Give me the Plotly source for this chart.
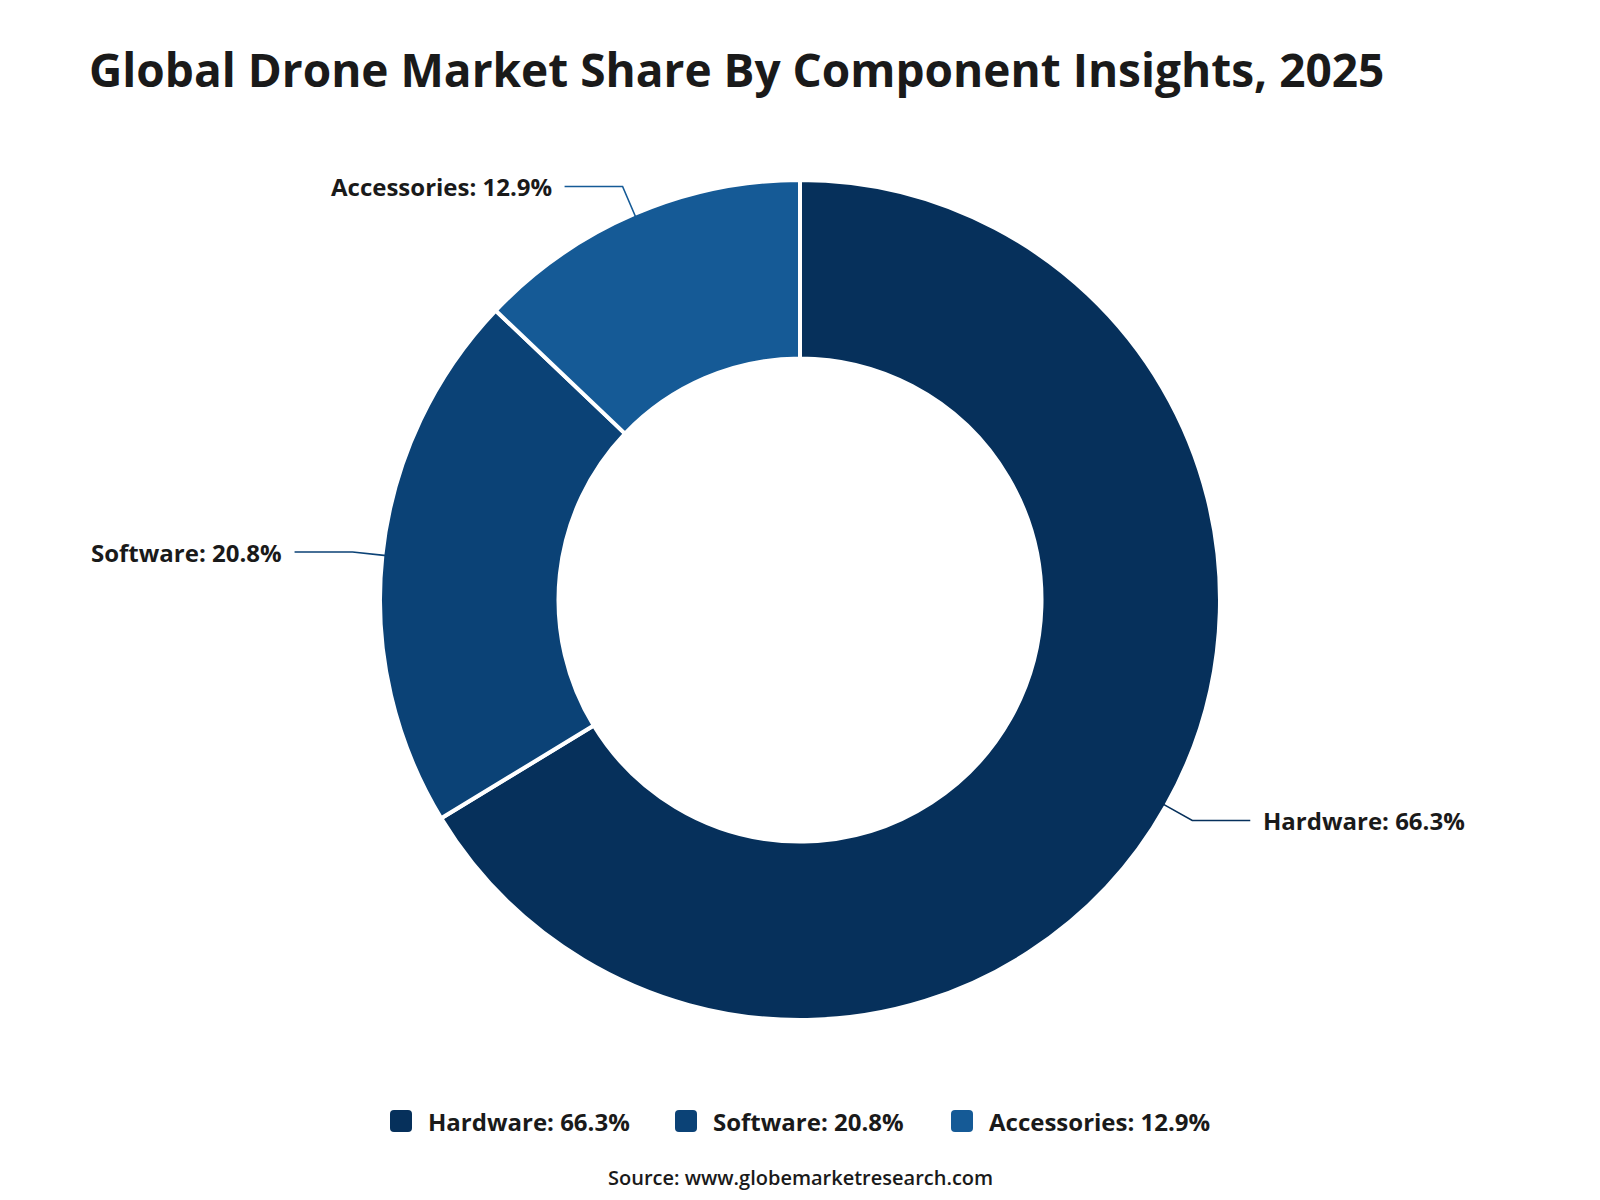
import math
import plotly.graph_objects as go

categories = ["Hardware", "Software", "Accessories"]
shares = [66.3, 20.8, 12.9]
colors = ["#06305B", "#0B4276", "#155A96"]

W, H = 1600, 1200
CX, CY, R = 800, 600, 420
HOLE = 0.575
FONT = "Open Sans"
TXT = "#1a1a1a"

labels = [f"{c}: {v}%" for c, v in zip(categories, shares)]

fig = go.Figure()
fig.add_trace(go.Pie(
    labels=labels, values=shares, sort=False, direction="clockwise", rotation=0,
    hole=HOLE, textinfo="none",
    marker=dict(colors=colors, line=dict(color="white", width=4)),
    domain=dict(x=[0, 1], y=[(H - CY - R) / H, (H - CY + R) / H]),
    hovertemplate="%{label}<extra></extra>", showlegend=False,
))

# leader lines + labels computed from slice mid-angles
total = sum(shares)
cum = 0.0
shapes, annotations = [], []
for lab, v, col in zip(labels, shares, colors):
    mid = (cum + v / 2) / total * 2 * math.pi  # clockwise from 12 o'clock
    cum += v
    dx, dy = math.sin(mid), -math.cos(mid)
    x0, y0 = CX + (R - 4) * dx, CY + (R - 4) * dy
    x1, y1 = CX + (R + 30) * dx, CY + (R + 30) * dy
    side = 1 if dx >= 0 else -1
    x2 = x1 + side * 58
    path = f"M {x0/W},{1-y0/H} L {x1/W},{1-y1/H} L {x2/W},{1-y1/H}"
    shapes.append(dict(type="path", xref="paper", yref="paper", path=path,
                       line=dict(color=col, width=1.6)))
    annotations.append(dict(
        x=(x2 + side * 11) / W, y=1 - y1 / H, xref="paper", yref="paper",
        text=f"<b>{lab}</b>", showarrow=False,
        xanchor="left" if side > 0 else "right", yanchor="middle",
        font=dict(family=FONT, size=24, color=TXT)))

# custom legend (rounded squares + text)
legend_x = [390, 675, 951]
LEG_Y, SQ, RAD = 1121, 22, 4
for lx, lab, col in zip(legend_x, labels, colors):
    x0, x1 = lx, lx + SQ
    y0, y1 = LEG_Y - SQ / 2, LEG_Y + SQ / 2
    def P(x, y):
        return f"{x/W},{1-y/H}"
    path = (f"M {P(x0+RAD, y0)} L {P(x1-RAD, y0)} Q {P(x1, y0)} {P(x1, y0+RAD)} "
            f"L {P(x1, y1-RAD)} Q {P(x1, y1)} {P(x1-RAD, y1)} L {P(x0+RAD, y1)} "
            f"Q {P(x0, y1)} {P(x0, y1-RAD)} L {P(x0, y0+RAD)} Q {P(x0, y0)} {P(x0+RAD, y0)} Z")
    shapes.append(dict(type="path", xref="paper", yref="paper", path=path,
                       fillcolor=col, line=dict(width=0)))
    annotations.append(dict(
        x=(x1 + 14) / W, y=1 - LEG_Y / H, xref="paper", yref="paper",
        text=f"<b>{lab}</b>", showarrow=False, xanchor="left", yanchor="middle",
        font=dict(family=FONT, size=24, color=TXT)))

annotations.append(dict(
    x=0.5, y=1 - 1177 / H, xref="paper", yref="paper",
    text="Source: www.globemarketresearch.com", showarrow=False,
    xanchor="center", yanchor="middle",
    font=dict(family=FONT, size=20, color=TXT, weight=600)))

fig.update_layout(
    width=W, height=H, paper_bgcolor="white", plot_bgcolor="white",
    margin=dict(l=0, r=0, t=0, b=0),
    title=dict(text="<b>Global Drone Market Share By Component Insights, 2025</b>",
               x=89 / W, xanchor="left", xref="paper",
               y=1 - 71 / H, yanchor="middle", yref="container",
               font=dict(family=FONT, size=46, color=TXT)),
    showlegend=False,
    shapes=shapes, annotations=annotations,
)

fig.write_html("out.html")
